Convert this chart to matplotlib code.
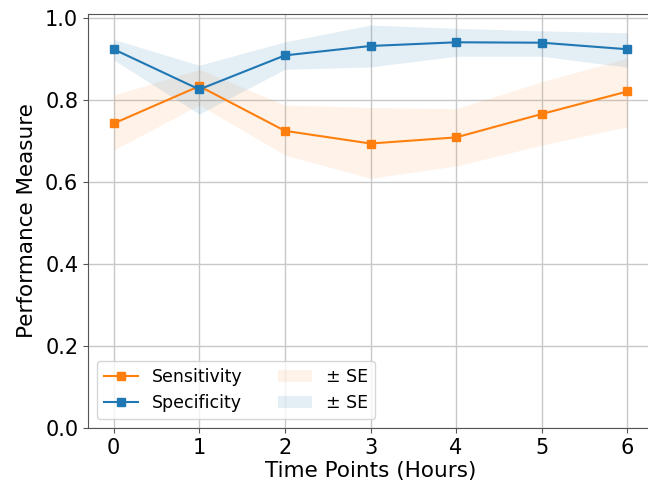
import matplotlib
matplotlib.use("Agg")
import matplotlib.pyplot as plt
import numpy as np

hours = [0, 1, 2, 3, 4, 5, 6]
sensitivity = [0.743, 0.834, 0.725, 0.694, 0.709, 0.766, 0.821]
sens_lo = [0.678, 0.788, 0.666, 0.609, 0.639, 0.690, 0.735]
sens_hi = [0.812, 0.875, 0.788, 0.782, 0.779, 0.845, 0.902]
specificity = [0.924, 0.826, 0.909, 0.932, 0.941, 0.940, 0.924]
spec_lo = [0.898, 0.766, 0.875, 0.881, 0.907, 0.907, 0.880]
spec_hi = [0.948, 0.885, 0.942, 0.983, 0.975, 0.969, 0.964]

fig = plt.figure(figsize=(6.48, 4.83), dpi=100)
ax = fig.add_axes([88 / 648, 55 / 483, (653 - 88) / 648, (428 - 14) / 483])

l1, = ax.plot(hours, sensitivity, color="tab:orange", marker="s", markersize=6,
              lw=1.5, label="Sensitivity")
l2, = ax.plot(hours, specificity, color="tab:blue", marker="s", markersize=6,
              lw=1.5, label="Specificity")
f1 = ax.fill_between(hours, sens_lo, sens_hi, color="tab:orange", alpha=0.09,
                     lw=0, label="± SE")
f2 = ax.fill_between(hours, spec_lo, spec_hi, color="tab:blue", alpha=0.12,
                     lw=0, label="± SE")

ax.set_xlim(-0.3, 6.3)
ax.set_ylim(0, 1.01)
ax.set_xticks(hours)
ax.set_yticks([0.0, 0.2, 0.4, 0.6, 0.8, 1.0])
ax.grid(True, color="#c8c8c8", lw=1)
ax.set_axisbelow(True)
for s in ax.spines.values():
    s.set_color("#555555")
ax.tick_params(labelsize=15, color="#555555")
ax.set_xlabel("Time Points (Hours)", fontsize=15.5, labelpad=2)
ax.set_ylabel("Performance Measure", fontsize=15.5, labelpad=6)
ax.legend([l1, l2, f1, f2], ["Sensitivity", "Specificity", "± SE", "± SE"],
          ncol=2, loc="lower left", fontsize=12.5)

fig.savefig("out.png", dpi=100)
